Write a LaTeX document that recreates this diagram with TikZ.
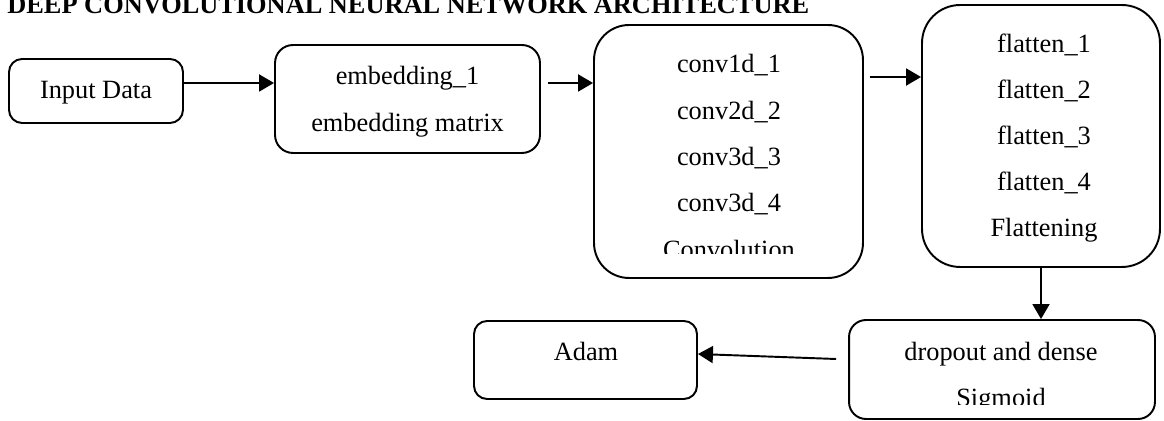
\documentclass[tikz,border=0pt]{standalone}
\usepackage{fontspec}
\setmainfont{Liberation Serif}
\usetikzlibrary{arrows.meta}

\begin{document}
\begin{tikzpicture}[
  x=0.02cm, y=-0.02cm,
  font=\fontsize{15}{26.5}\selectfont,
  box/.style={draw, line width=1.1pt, rounded corners=#1, inner sep=0pt},
  box/.default=6pt,
  txt/.style={anchor=base, inner sep=0pt},
  title/.style={font=\fontsize{15}{18}\selectfont\bfseries, anchor=base west, inner sep=0pt},
  arrow/.style={-{Triangle[length=0.3cm,width=0.34cm]}, line width=1.1pt}
]
\useasboundingbox (0,0) rectangle (1164,421);

\node[title] (head) at (7,14) {DEEP CONVOLUTIONAL NEURAL NETWORK ARCHITECTURE};

% boxes
\node[box=0.26cm, minimum width=3.48cm, minimum height=1.28cm] (inp) at (96,91) {};
\node[box=0.36cm, minimum width=5.3cm, minimum height=2.16cm] (emb) at (407.5,99) {};
\node[box=0.7cm, minimum width=5.38cm, minimum height=5.06cm] (conv) at (728.5,151.5) {};
\node[box=0.76cm, minimum width=4.76cm, minimum height=5.24cm] (flat) at (1041,136) {};
\node[box=0.34cm, minimum width=6.12cm, minimum height=1.98cm] (drop) at (1002,369.5) {};
\node[box=0.26cm, minimum width=4.46cm, minimum height=1.56cm] (adam) at (585.5,360) {};

% box texts
\node[txt] (inptxt) at (96,99) {Input Data};
\node[txt] (emb1) at (407.5,85) {embedding\_1};
\node[txt] (emb2) at (407.5,132) {embedding matrix};
\begin{scope}
  \clip (594,25) rectangle (863,254);
  \foreach \t [count=\i] in {conv1d\_1,conv2d\_2,conv3d\_3,conv3d\_4,Convolution}
    \node[txt] (c\i) at (729,{73+46.3*(\i-1)}) {\t};
\end{scope}
\foreach \t [count=\i] in {flatten\_1,flatten\_2,flatten\_3,flatten\_4,Flattening}
  \node[txt] (f\i) at (1044,{53+46*(\i-1)}) {\t};
\node[txt] (d1) at (1001,361) {dropout and dense};
\begin{scope}
  \clip (849,320) rectangle (1155,405);
  \node[txt] (d2) at (1001,407) {Sigmoid};
\end{scope}
\node[txt] (adamtxt) at (586,361) {Adam};

% connectors
\draw[arrow] ([yshift=0.16cm]inp.east) -- ([yshift=0.16cm]inp.east -| emb.west);
\draw[arrow] ([xshift=0.14cm,yshift=0.32cm]emb.east) -- ([yshift=0.32cm]emb.east -| conv.west);
\draw[arrow] ([xshift=0.12cm,yshift=1.49cm]conv.east) -- ([yshift=1.49cm]conv.east -| flat.west);
\draw[arrow] (flat.south) -- (flat.south |- drop.north);
\draw[arrow] ([xshift=-0.24cm,yshift=0.21cm]drop.west) -- ([yshift=0.12cm]adam.east);

\end{tikzpicture}
\end{document}
